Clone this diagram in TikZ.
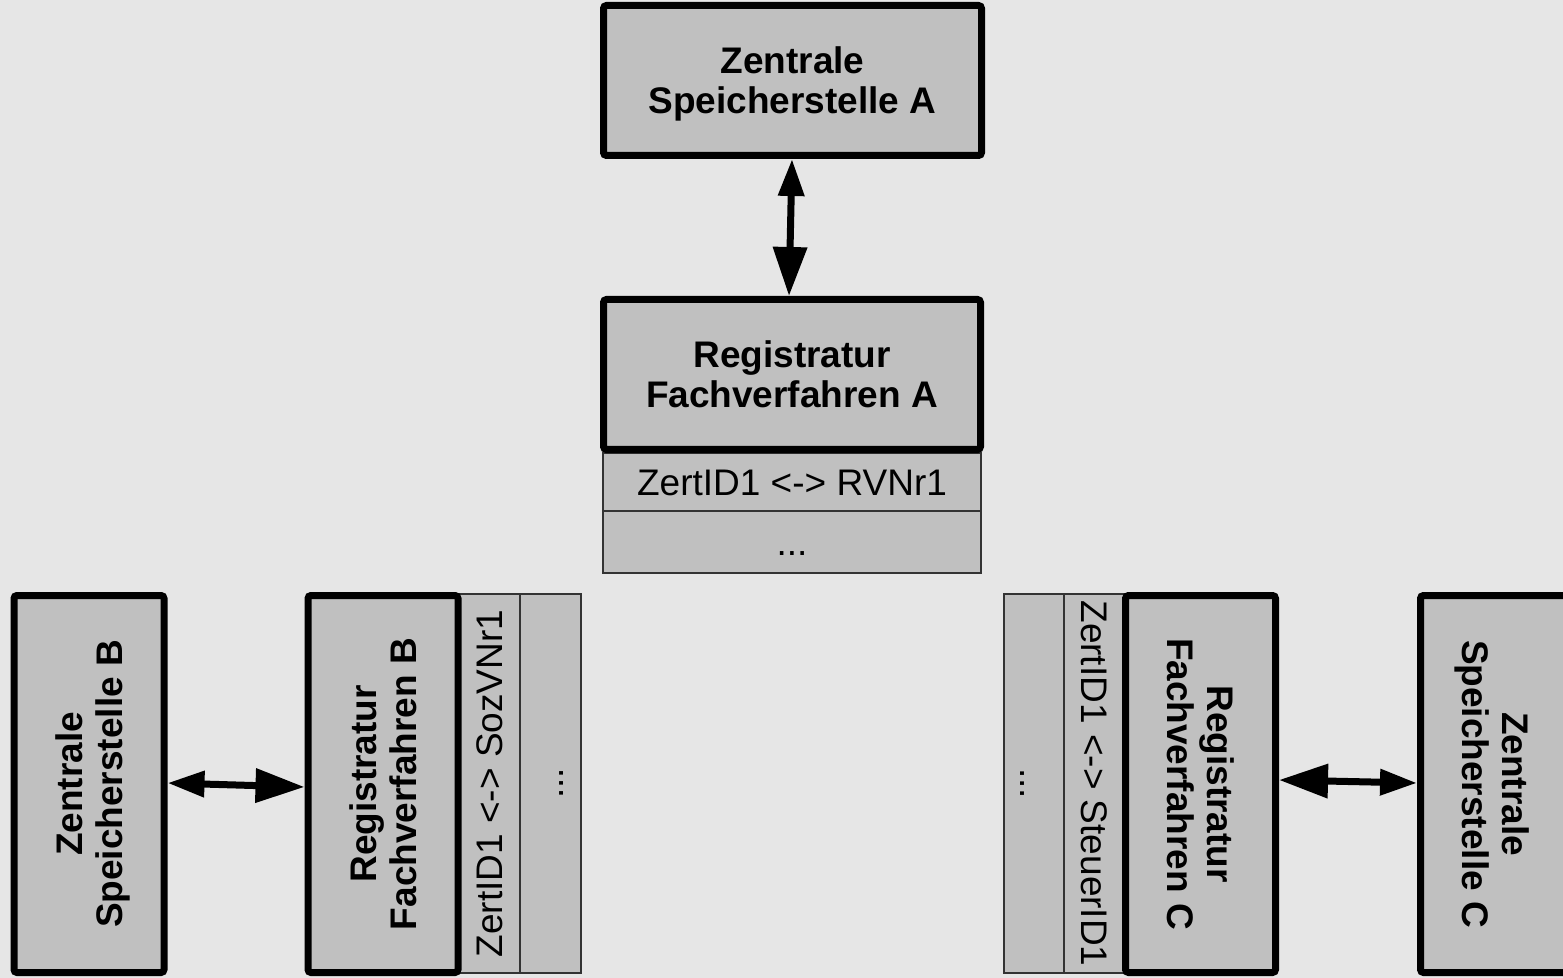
\documentclass[tikz,border=0pt]{standalone}
\usepackage{fontspec}
\setmainfont{Liberation Sans}
\usetikzlibrary{arrows.meta}

\definecolor{canvas}{HTML}{E6E6E6}
\definecolor{boxgray}{HTML}{C0C0C0}
\definecolor{rulegray}{HTML}{333333}

\tikzset{
  heavybox/.style={draw=black, fill=boxgray, line width=3.5pt,
    rounded corners=1.5pt, inner sep=0pt},
  sidebox/.style={heavybox, minimum width=75pt, minimum height=188.5pt},
  cell/.style={draw=rulegray, fill=boxgray, line width=0.6pt, inner sep=0pt,
    font=\fontsize{18.5}{20}\selectfont, text height=13.3pt, text depth=0pt},
  title/.style={font=\fontsize{18.5}{20}\selectfont\bfseries, align=center,
    inner sep=0pt, text depth=0pt},
  link/.style={line width=3.5pt,
    {Triangle[length=18.5pt,width=12.5pt]}-{Triangle[length=24.5pt,width=16.5pt]}},
}

\begin{document}
\begin{tikzpicture}[x=0.5pt, y=-0.5pt]
  \useasboundingbox (0,0) rectangle (1563,978);
  \fill[canvas] (0,0) rectangle (1563,978);

  % ---- branch A (top, horizontal) ----
  \node[cell, minimum width=189pt, minimum height=29pt] (tabA1) at (792,482) {ZertID1 <-> RVNr1};
  \node[cell, minimum width=189pt, minimum height=31pt] (tabA2) at (792,542) {...};
  \node[heavybox, title, minimum width=189pt, minimum height=75pt] (zspa) at (792.5,80.5)
    {Zentrale\\Speicherstelle A};
  \node[heavybox, title, minimum width=188.5pt, minimum height=75pt] (rega) at (792,374.5)
    {Registratur\\Fachverfahren A};

  % ---- branch B (bottom left, rotated text) ----
  \node[cell, rotate=90, minimum width=189.5pt, minimum height=31pt] (tabB1) at (489,783.5)
    {ZertID1 <-> SozVNr1};
  \node[cell, rotate=90, minimum width=189.5pt, minimum height=30.5pt] (tabB2) at (550.5,783.5) {...};
  \node[sidebox] (zspb) at (89,784) {};
  \node[title, rotate=90] (zspbtext) at (zspb.center) {Zentrale\\Speicherstelle B};
  \node[sidebox] (regb) at (383,784) {};
  \node[title, rotate=90] (regbtext) at (regb.center) {Registratur\\Fachverfahren B};

  % ---- branch C (bottom right, rotated text) ----
  \node[cell, rotate=-90, minimum width=189.5pt, minimum height=30.5pt] (tabC1) at (1094.5,783.5)
    {ZertID1 <-> SteuerID1};
  \node[cell, rotate=-90, minimum width=189.5pt, minimum height=30pt] (tabC2) at (1034,783.5) {...};
  \node[sidebox] (regc) at (1200.5,784) {};
  \node[title, rotate=-90] (regctext) at (regc.center) {Registratur\\Fachverfahren C};
  \node[sidebox] (zspc) at (1495.5,784) {};
  \node[title, rotate=-90] (zspctext) at (zspc.center) {Zentrale\\Speicherstelle C};

  % ---- connectors ----
  \draw[link] ([xshift=-0.25pt]zspa.south) -- ([xshift=-1.5pt]rega.north);
  \draw[link] ([yshift=0.5pt]zspb.east) -- ([yshift=-1.5pt]regb.west);
  \draw[link] ([yshift=0.5pt]zspc.west) -- ([yshift=2pt]regc.east);
\end{tikzpicture}
\end{document}
